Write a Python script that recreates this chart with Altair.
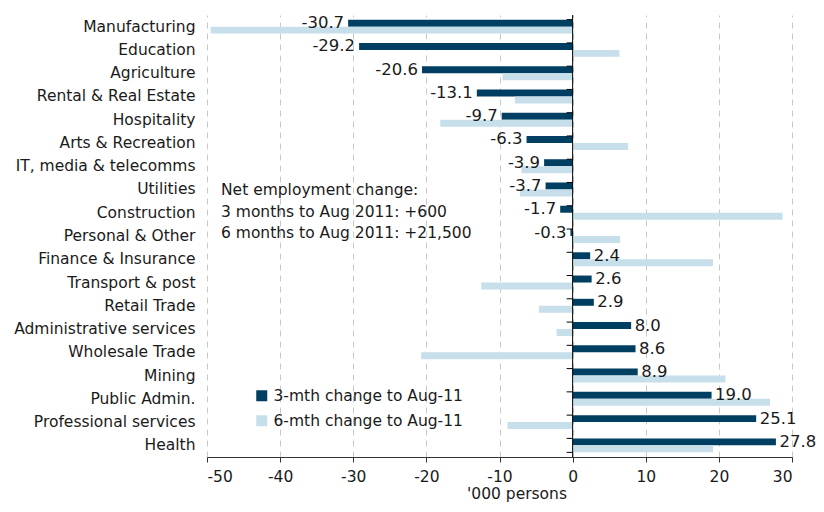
import altair as alt
import pandas as pd

categories = ["Manufacturing", "Education", "Agriculture", "Rental & Real Estate", "Hospitality",
              "Arts & Recreation", "IT, media & telecomms", "Utilities", "Construction",
              "Personal & Other", "Finance & Insurance", "Transport & post", "Retail Trade",
              "Administrative services", "Wholesale Trade", "Mining", "Public Admin.",
              "Professional services", "Health"]
change_3m = [-30.7, -29.2, -20.6, -13.1, -9.7, -6.3, -3.9, -3.7, -1.7, -0.3,
             2.4, 2.6, 2.9, 8.0, 8.6, 8.9, 19.0, 25.1, 27.8]
change_6m = [-49.5, 6.4, -9.6, -7.9, -18.1, 7.6, -7.0, -7.2, 28.7, 6.5,
             19.2, -12.5, -4.6, -2.2, -20.7, 20.9, 27.0, -8.9, 19.2]
series = ["3-mth change to Aug-11", "6-mth change to Aug-11"]
x_ticks = [-50, -40, -30, -20, -10, 0, 10, 20, 30]
note_lines = ["Net employment change:",
              "3 months to Aug 2011: +600",
              "6 months to Aug 2011: +21,500"]

DARK = "#003f62"
LIGHT = "#c6dfeb"
FONT = "DejaVu Sans"
TXT = "#1a1a1a"

rows = []
for c, v3, v6 in zip(categories, change_3m, change_6m):
    rows.append({"category": c, "series": series[0], "value": v3, "label": f"{v3:.1f}"})
    rows.append({"category": c, "series": series[1], "value": v6, "label": f"{v6:.1f}"})
df = pd.DataFrame(rows)
df3 = df[df["series"] == series[0]]
cat_df = pd.DataFrame({"category": categories})
last_df = pd.DataFrame({"category": categories[-1:]})

xscale = alt.Scale(domain=[-50, 30], nice=False)
yscale = alt.Scale(paddingInner=0.4, paddingOuter=0.2)
offscale = alt.Scale(domain=series, paddingInner=0, paddingOuter=0)

bars = alt.Chart(df).mark_bar().encode(
    x=alt.X("value:Q", scale=xscale,
            axis=alt.Axis(values=x_ticks, grid=True, gridDash=[6, 5], gridColor="#c8c8c8",
                          gridWidth=1, tickSize=5, labelPadding=7, labelFontSize=15.5,
                          labelExpr="datum.value + ''",
                          labelColor=TXT, domainColor="#333333", tickColor="#333333",
                          title="'000 persons", titleFontSize=15.5, titleFontWeight="normal",
                          titleColor=TXT, titleX=309.5, titleY=29, titleBaseline="top")),
    y=alt.Y("category:N", sort=categories, scale=yscale,
            axis=alt.Axis(title=None, ticks=False, domain=False, labelPadding=12,
                          labelFontSize=15.5, labelColor=TXT, grid=False, labelLimit=0)),
    yOffset=alt.YOffset("series:N", sort=series, scale=offscale),
    color=alt.Color("series:N", scale=alt.Scale(domain=series, range=[DARK, LIGHT]),
                    legend=alt.Legend(orient="none", legendX=47, legendY=373, title=None,
                                      symbolType="square", symbolSize=121,
                                      symbolStrokeWidth=0, labelFontSize=15.5,
                                      labelColor=TXT, rowPadding=8, labelOffset=4,
                                      padding=0, labelLimit=0)),
)

zero_line = alt.Chart(pd.DataFrame({"v": [0]})).mark_rule(color="black", strokeWidth=1).encode(
    x=alt.X("v:Q", scale=xscale)
)

y_ticks_top = alt.Chart(cat_df).mark_rule(color="black", strokeWidth=1, x2Offset=-6).encode(
    x=alt.datum(0, scale=xscale),
    x2=alt.datum(0),
    y=alt.Y("category:N", sort=categories, scale=yscale, bandPosition=0),
)
y_ticks_bottom = alt.Chart(last_df).mark_rule(color="black", strokeWidth=1, x2Offset=-6).encode(
    x=alt.datum(0, scale=xscale),
    x2=alt.datum(0),
    y=alt.Y("category:N", sort=categories, scale=yscale, bandPosition=1),
)

lab_neg = alt.Chart(df3).transform_filter("datum.value < 0").mark_text(
    align="right", baseline="middle", dx=-4, fontSize=16.5, color=TXT
).encode(
    x=alt.X("value:Q", scale=xscale),
    y=alt.Y("category:N", sort=categories, scale=yscale),
    yOffset=alt.YOffset("series:N", sort=series, scale=offscale),
    text=alt.Text("label:N"),
)

lab_pos = alt.Chart(df3).transform_filter("datum.value >= 0").mark_text(
    align="left", baseline="middle", dx=3.5, fontSize=16.5, color=TXT
).encode(
    x=alt.X("value:Q", scale=xscale),
    y=alt.Y("category:N", sort=categories, scale=yscale),
    yOffset=alt.YOffset("series:N", sort=series, scale=offscale),
    text=alt.Text("label:N"),
)

note = alt.Chart(pd.DataFrame({"k": [0]})).mark_text(
    text=note_lines, align="left", baseline="top", fontSize=15.5, lineHeight=21.5,
    color=TXT
).encode(x=alt.value(14), y=alt.value(168))

chart = alt.layer(bars, zero_line, y_ticks_top, y_ticks_bottom, lab_neg, lab_pos, note).properties(
    width=585, height=442,
    autosize=alt.AutoSizeParams(type="none"),
    padding={"left": 199, "top": 7, "right": 24, "bottom": 47},
).configure(font=FONT).configure_view(stroke=None)

chart.save("out.html", embed_options={"renderer": "svg", "actions": False})
